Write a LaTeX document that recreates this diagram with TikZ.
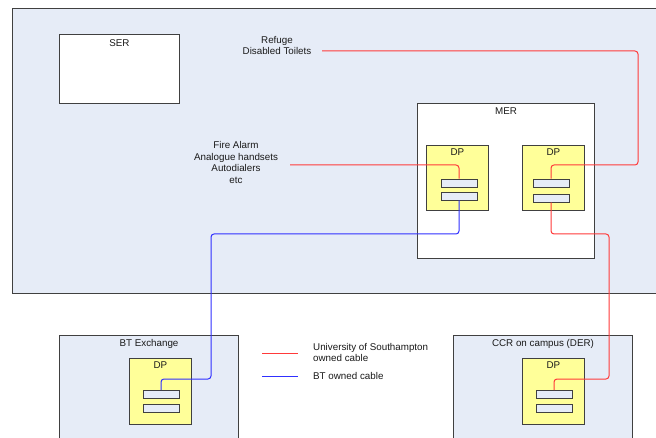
\documentclass[tikz,border=0pt]{standalone}
\usepackage{fontspec}
\setmainfont{Liberation Sans}
\definecolor{bgblue}{HTML}{E6ECF7}
\definecolor{dpyellow}{HTML}{FFFF99}
\definecolor{edge}{HTML}{404040}
\definecolor{wred}{HTML}{FF3A3A}
\definecolor{wblue}{HTML}{3030FF}
\definecolor{txt}{HTML}{1A1A1A}
\tikzset{
  dpbox/.style={draw=edge, line width=0.9pt, fill=dpyellow, minimum width=62pt, minimum height=65pt, inner sep=0pt,
     label={[anchor=north, inner sep=0pt, yshift=-4pt, text=txt]north:DP}},
  slot/.style={draw=edge, line width=0.9pt, fill=bgblue, minimum width=36pt, minimum height=8pt, inner sep=0pt},
  uos/.style={draw=wred, line width=1pt, rounded corners=3pt},
  bt/.style={draw=wblue, line width=1pt, rounded corners=3pt},
  lbl/.style={text=txt, align=center, inner sep=0pt},
}
\begin{document}
\begin{tikzpicture}[x=1pt,y=-1pt, font=\fontsize{9.8}{11.6}\selectfont]
\useasboundingbox (0,0) rectangle (656,438);
\fill[white] (0,0) rectangle (656,438);
% main building
\node[draw=edge, line width=1pt, fill=bgblue, minimum width=660pt, minimum height=285pt, inner sep=0pt, anchor=north west] (bldg) at (12,8) {};
% SER
\node[draw=edge, line width=1pt, fill=white, minimum width=120pt, minimum height=69pt, inner sep=0pt, anchor=north west,
  label={[anchor=north, inner sep=0pt, yshift=-5pt, text=txt]north:SER}] (ser) at (59,34) {};
% MER
\node[draw=edge, line width=1pt, fill=white, minimum width=177pt, minimum height=155pt, inner sep=0pt, anchor=north west,
  label={[anchor=north, inner sep=0pt, yshift=-5pt, text=txt]north:MER}] (mer) at (417,103) {};
% DPs in MER
\node[dpbox, anchor=north west] (dp1) at (426,145) {};
\node[dpbox, anchor=north west] (dp2) at (522,145) {};
\node[slot] (s11) at (459,183) {};
\node[slot] (s12) at (459,196) {};
\node[slot] (s21) at (551,183) {};
\node[slot] (s22) at (551,198) {};
% BT exchange
\node[draw=edge, line width=1pt, fill=bgblue, minimum width=179pt, minimum height=120pt, inner sep=0pt, anchor=north west,
  label={[anchor=north, inner sep=0pt, yshift=-4pt, text=txt]north:BT Exchange}] (btx) at (59,335) {};
\node[dpbox, anchor=north west, minimum height=66pt] (dp3) at (129,358) {};
\node[slot] (s31) at (161,394.5) {};
\node[slot] (s32) at (161,408) {};
% CCR
\node[draw=edge, line width=1pt, fill=bgblue, minimum width=179pt, minimum height=120pt, inner sep=0pt, anchor=north west,
  label={[anchor=north, inner sep=0pt, yshift=-4pt, text=txt]north:CCR on campus (DER)}] (ccr) at (453,335) {};
\node[dpbox, anchor=north west, minimum height=66pt] (dp4) at (522,358) {};
\node[slot] (s41) at (554,394.5) {};
\node[slot] (s42) at (554,408) {};
% texts
\node[lbl] (refuge) at (277,45.5) {Refuge\\Disabled Toilets};
\node[lbl] (fire) at (236,162.5) {Fire Alarm\\Analogue handsets\\Autodialers\\etc};
\coordinate (refEnd) at (322,51);
\coordinate (fireEnd) at (290,165);
% wires
\draw[uos] (refEnd) -- (638,51) -- (638,165) -- (551,165) -- (s21.north);
\draw[uos] (fireEnd) -- (459,165) -- (s11.north);
\draw[bt] (s12.south) -- (459,234) -- (211,234) -- (211,379) -- (161,379) -- (s31.north);
\draw[uos] (s22.south) -- (551,234) -- (609,234) -- (609,379) -- (554,379) -- (s41.north);
% legend
\coordinate (lr1) at (262,353);
\coordinate (lr2) at (298,353);
\coordinate (lb1) at (262,376);
\coordinate (lb2) at (298,376);
\draw[uos] (lr1) -- (lr2);
\draw[bt] (lb1) -- (lb2);
\node[lbl, align=left, anchor=west] (legr) at (313,352.5) {University of Southampton\\owned cable};
\node[lbl, anchor=west] (legb) at (313,376) {BT owned cable};
\end{tikzpicture}
\end{document}
